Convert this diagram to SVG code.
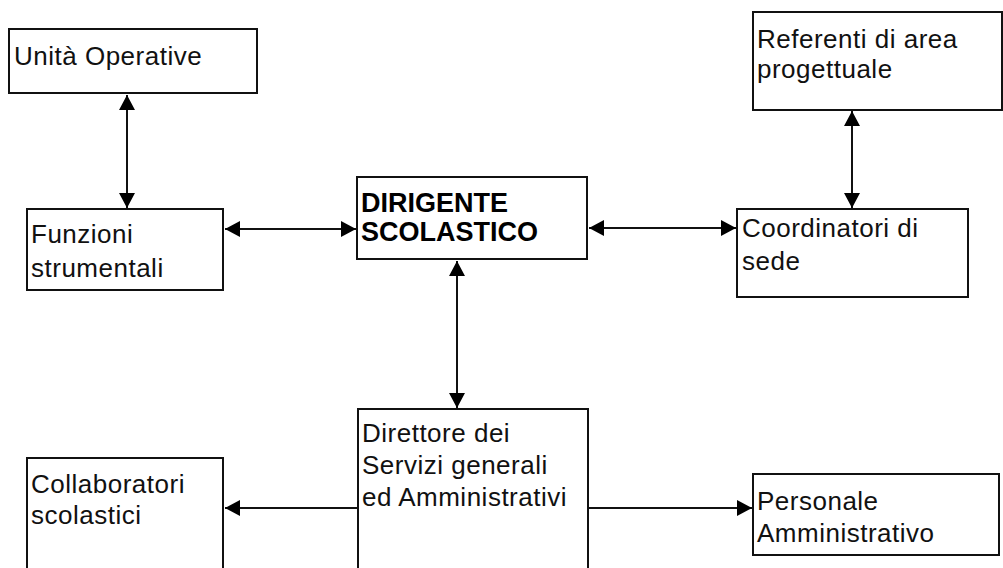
<svg xmlns="http://www.w3.org/2000/svg" width="1003" height="568" viewBox="0 0 1003 568">
<defs>
<style>
.box{fill:#fff;stroke:#111;stroke-width:2}
.t{font-family:"Liberation Sans",Arial,sans-serif;font-size:26px;fill:#111;letter-spacing:0.5px}
.b{font-family:"Liberation Sans",Arial,sans-serif;font-size:27px;font-weight:bold;fill:#000}
.c{stroke:#111;stroke-width:2;fill:none;marker-end:url(#ah)}
.cc{stroke:#111;stroke-width:2;fill:none;marker-start:url(#ahs);marker-end:url(#ah)}
</style>
<marker id="ah" viewBox="0 0 15 16" refX="15" refY="8" markerWidth="15" markerHeight="16" markerUnits="userSpaceOnUse" orient="auto">
<path d="M0,0 L15,8 L0,16 Z" fill="#000"/>
</marker>
<marker id="ahs" viewBox="0 0 15 16" refX="0" refY="8" markerWidth="15" markerHeight="16" markerUnits="userSpaceOnUse" orient="auto">
<path d="M15,0 L0,8 L15,16 Z" fill="#000"/>
</marker>
</defs>
<rect width="1003" height="568" fill="#fff"/>
<g id="connectors">
<line class="cc" x1="127" y1="95" x2="127" y2="208"/>
<line class="cc" x1="852" y1="111" x2="852" y2="208"/>
<line class="cc" x1="225" y1="229" x2="356" y2="229"/>
<line class="cc" x1="589" y1="228" x2="736" y2="228"/>
<line class="cc" x1="457" y1="261" x2="457" y2="408"/>
<line class="c" x1="357" y1="508" x2="225" y2="508"/>
<line class="c" x1="589" y1="508" x2="752" y2="508"/>
</g>
<g id="unita">
<rect class="box" x="9" y="29" width="248" height="64"/>
<text class="t" x="14" y="65">Unità Operative</text>
</g>
<g id="funzioni">
<rect class="box" x="27" y="209" width="196" height="81"/>
<text class="t" x="31" y="243">Funzioni</text>
<text class="t" x="31" y="277">strumentali</text>
</g>
<g id="dirigente">
<rect class="box" x="357" y="177" width="230" height="82"/>
<text class="b" x="361" y="212">DIRIGENTE</text>
<text class="b" x="361" y="241">SCOLASTICO</text>
</g>
<g id="referenti">
<rect class="box" x="753" y="12" width="249" height="98"/>
<text class="t" x="757" y="48">Referenti di area</text>
<text class="t" x="757" y="78">progettuale</text>
</g>
<g id="coordinatori">
<rect class="box" x="737" y="209" width="231" height="88"/>
<text class="t" x="742" y="237">Coordinatori di</text>
<text class="t" x="742" y="270">sede</text>
</g>
<g id="direttore">
<rect class="box" x="358" y="409" width="230" height="170"/>
<text class="t" x="362" y="442">Direttore dei</text>
<text class="t" x="362" y="474">Servizi generali</text>
<text class="t" x="362" y="506">ed Amministrativi</text>
</g>
<g id="collaboratori">
<rect class="box" x="27" y="458" width="196" height="120"/>
<text class="t" x="31" y="493">Collaboratori</text>
<text class="t" x="31" y="524">scolastici</text>
</g>
<g id="personale">
<rect class="box" x="753" y="474" width="246" height="81"/>
<text class="t" x="757" y="510">Personale</text>
<text class="t" x="757" y="542">Amministrativo</text>
</g>
</svg>
